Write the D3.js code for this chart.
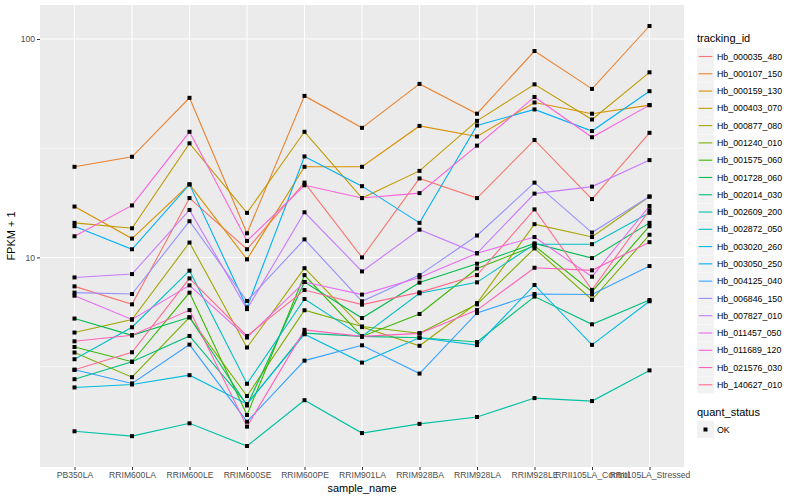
<!DOCTYPE html>
<html>
<head>
<meta charset="utf-8">
<title>FPKM by sample</title>
<script src="https://d3js.org/d3.v7.min.js"></script>
<style>
  body { margin: 0; background: #fff; }
  text { font-family: "Liberation Sans", Arial, Helvetica, sans-serif; }
</style>
</head>
<body>
<div id="chart"></div>
<script>
// sample names on the x axis
var samples = ['PB350LA', 'RRIM600LA', 'RRIM600LE', 'RRIM600SE', 'RRIM600PE', 'RRIM901LA',
  'RRIM928BA', 'RRIM928LA', 'RRIM928LE', 'RRII105LA_Control', 'RRII105LA_Stressed'];

// FPKM + 1 per gene, one value per sample
var hb_000035_480 = [7.37, 6.1, 18.7, 10.9, 22.0, 10.0, 23.0, 18.7, 34.5, 18.5, 37.2];
var hb_000107_150 = [26.0, 28.9, 53.8, 12.9, 54.9, 39.2, 62.3, 45.5, 88.1, 59.1, 114.7];
var hb_000159_130 = [17.1, 12.2, 21.6, 9.8, 26.0, 26.0, 40.0, 35.8, 51.2, 45.5, 49.8];
var hb_000403_070 = [14.4, 13.6, 33.3, 16.0, 37.6, 18.7, 24.9, 42.2, 62.0, 42.8, 70.4];
var hb_000877_080 = [4.53, 5.2, 11.7, 3.87, 8.93, 4.8, 3.94, 6.18, 14.2, 12.4, 19.0];
var hb_001240_010 = [3.67, 2.83, 5.32, 2.32, 5.73, 4.83, 4.5, 6.1, 11.0, 6.4, 12.7];
var hb_001575_060 = [3.89, 3.33, 6.9, 1.9, 8.3, 4.35, 5.51, 8.9, 11.3, 6.97, 13.9];
var hb_001728_060 = [5.25, 4.4, 5.32, 2.1, 7.72, 5.28, 7.67, 9.36, 11.6, 9.93, 14.4];
var hb_002014_030 = [2.77, 3.33, 4.37, 2.13, 4.5, 4.35, 4.29, 4.1, 6.62, 4.94, 6.38];
var hb_002609_200 = [1.60, 1.52, 1.74, 1.37, 2.22, 1.57, 1.73, 1.86, 2.27, 2.20, 3.04];
var hb_002872_050 = [3.42, 4.79, 8.7, 2.64, 6.45, 4.35, 6.85, 7.69, 11.5, 11.5, 16.0];
var hb_003020_260 = [2.54, 2.62, 2.89, 2.13, 4.45, 3.3, 4.29, 3.97, 7.48, 3.98, 6.3];
var hb_003050_250 = [13.9, 10.9, 21.6, 5.9, 29.0, 21.2, 14.4, 40.2, 47.6, 37.9, 57.7];
var hb_004125_040 = [3.06, 2.65, 3.99, 1.77, 3.37, 3.96, 2.94, 5.57, 6.8, 6.77, 9.13];
var hb_006846_150 = [6.9, 6.8, 14.65, 6.32, 12.1, 6.3, 8.3, 12.6, 22.0, 13.0, 19.0];
var hb_007827_010 = [8.1, 8.39, 16.5, 5.8, 16.1, 8.63, 13.4, 10.45, 19.6, 21.1, 27.9];
var hb_011457_050 = [6.68, 5.2, 7.45, 4.3, 7.72, 6.76, 8.1, 10.45, 12.4, 8.16, 17.2];
var hb_011689_120 = [12.5, 17.3, 37.6, 11.9, 21.4, 18.7, 19.7, 32.5, 54.3, 35.5, 49.8];
var hb_021576_030 = [4.13, 4.4, 5.74, 1.68, 4.66, 4.35, 4.49, 5.74, 8.97, 8.73, 11.75];
var hb_140627_010 = [3.06, 3.68, 8.02, 4.37, 7.09, 6.08, 6.92, 8.3, 16.6, 7.1, 16.45];

var trackingIds = ['Hb_000035_480', 'Hb_000107_150', 'Hb_000159_130', 'Hb_000403_070', 'Hb_000877_080',
  'Hb_001240_010', 'Hb_001575_060', 'Hb_001728_060', 'Hb_002014_030', 'Hb_002609_200',
  'Hb_002872_050', 'Hb_003020_260', 'Hb_003050_250', 'Hb_004125_040', 'Hb_006846_150',
  'Hb_007827_010', 'Hb_011457_050', 'Hb_011689_120', 'Hb_021576_030', 'Hb_140627_010'];
var seriesValues = [hb_000035_480, hb_000107_150, hb_000159_130, hb_000403_070, hb_000877_080,
  hb_001240_010, hb_001575_060, hb_001728_060, hb_002014_030, hb_002609_200,
  hb_002872_050, hb_003020_260, hb_003050_250, hb_004125_040, hb_006846_150,
  hb_007827_010, hb_011457_050, hb_011689_120, hb_021576_030, hb_140627_010];
var quantStatus = ['OK'];

// ggplot default hue palette, 20 levels
var palette = ['#F8766D', '#EA8331', '#D89000', '#C09B00', '#A3A500', '#7CAE00', '#39B600', '#00BB4E',
  '#00BF7D', '#00C1A3', '#00BFC4', '#00BAE0', '#00B0F6', '#35A2FF', '#9590FF', '#C77CFF',
  '#E76BF3', '#FA62DB', '#FF62BC', '#FF6C91'];

var series = trackingIds.map(function(id, i) {
  return { id: id, values: seriesValues[i].map(function(v, j) { return { sample: samples[j], value: v }; }) };
});

var W = 800, H = 500;
var panel = { left: 40, right: 684, top: 5, bottom: 467 };

var svg = d3.select('#chart').append('svg')
  .attr('width', W)
  .attr('height', H);

var x = d3.scalePoint()
  .domain(samples)
  .range([panel.left, panel.right])
  .padding(0.6);

// log scale with ggplot's 5% expansion in log space
var allVals = d3.merge(seriesValues);
var lo = Math.log10(d3.min(allVals)), hi = Math.log10(d3.max(allVals));
var pad = (hi - lo) * 0.05;
var y = d3.scaleLog()
  .domain([Math.pow(10, lo - pad), Math.pow(10, hi + pad)])
  .range([panel.bottom, panel.top]);

var color = d3.scaleOrdinal().domain(trackingIds).range(palette);

// panel background + grid
svg.append('rect')
  .attr('x', panel.left).attr('y', panel.top)
  .attr('width', panel.right - panel.left)
  .attr('height', panel.bottom - panel.top)
  .attr('fill', '#EBEBEB');

var grid = svg.append('g');
var minorTicks = [Math.pow(10, 0.5), Math.pow(10, 1.5)];
var majorTicks = [10, 100];

grid.selectAll('.minor').data(minorTicks).enter().append('line')
  .attr('x1', panel.left).attr('x2', panel.right)
  .attr('y1', function(d) { return y(d); }).attr('y2', function(d) { return y(d); })
  .attr('stroke', '#fff').attr('stroke-width', 0.55);

grid.selectAll('.major').data(majorTicks).enter().append('line')
  .attr('x1', panel.left).attr('x2', panel.right)
  .attr('y1', function(d) { return y(d); }).attr('y2', function(d) { return y(d); })
  .attr('stroke', '#fff').attr('stroke-width', 1.1);

grid.selectAll('.vert').data(samples).enter().append('line')
  .attr('x1', function(d) { return x(d); }).attr('x2', function(d) { return x(d); })
  .attr('y1', panel.top).attr('y2', panel.bottom)
  .attr('stroke', '#fff').attr('stroke-width', 1.1);

// lines
var line = d3.line()
  .x(function(d) { return x(d.sample); })
  .y(function(d) { return y(d.value); });

svg.append('g').selectAll('path')
  .data(series)
  .enter().append('path')
  .attr('d', function(d) { return line(d.values); })
  .attr('fill', 'none')
  .attr('stroke', function(d) { return color(d.id); })
  .attr('stroke-width', 1.1);

// points (square, quant_status = OK)
var pts = svg.append('g');
series.forEach(function(s) {
  pts.selectAll(null)
    .data(s.values)
    .enter().append('rect')
    .attr('x', function(d) { return x(d.sample) - 2; })
    .attr('y', function(d) { return y(d.value) - 2; })
    .attr('width', 4).attr('height', 4)
    .attr('fill', '#000');
});

// axes
var xAxis = svg.append('g')
  .attr('transform', 'translate(0,' + panel.bottom + ')')
  .call(d3.axisBottom(x).tickSize(3).tickPadding(2));
var yAxis = svg.append('g')
  .attr('transform', 'translate(' + panel.left + ',0)')
  .call(d3.axisLeft(y).tickValues(majorTicks).tickFormat(d3.format('d')).tickSize(3).tickPadding(2));

[xAxis, yAxis].forEach(function(a) {
  a.select('.domain').remove();
  a.selectAll('.tick line').attr('stroke', '#333').attr('stroke-width', 1);
  a.selectAll('.tick text').attr('fill', '#4D4D4D').style('font-size', '8.6px');
});

// axis titles
svg.append('text')
  .attr('x', (panel.left + panel.right) / 2)
  .attr('y', 492)
  .attr('text-anchor', 'middle')
  .style('font-size', '11px')
  .text('sample_name');

svg.append('text')
  .attr('transform', 'translate(15,' + ((panel.top + panel.bottom) / 2) + ') rotate(-90)')
  .attr('text-anchor', 'middle')
  .style('font-size', '11px')
  .text('FPKM + 1');

// legend: tracking_id
var lg = svg.append('g').attr('transform', 'translate(697,0)');
lg.append('text')
  .attr('x', 0).attr('y', 42)
  .style('font-size', '11px')
  .text('tracking_id');

var item = lg.selectAll('.item')
  .data(trackingIds)
  .enter().append('g')
  .attr('transform', function(d, i) { return 'translate(0,' + (48 + i * 17.28) + ')'; });

item.append('rect')
  .attr('width', 17).attr('height', 17)
  .attr('fill', '#F2F2F2');
item.append('line')
  .attr('x1', 1.7).attr('x2', 15.3)
  .attr('y1', 8.5).attr('y2', 8.5)
  .attr('stroke', function(d) { return color(d); })
  .attr('stroke-width', 1.1);
item.append('text')
  .attr('x', 20).attr('y', 11.6)
  .style('font-size', '8.8px')
  .text(function(d) { return d; });

// legend: quant_status
lg.append('text')
  .attr('x', 0).attr('y', 416)
  .style('font-size', '11px')
  .text('quant_status');

var qs = lg.selectAll('.qs')
  .data(quantStatus)
  .enter().append('g')
  .attr('transform', function(d, i) { return 'translate(0,' + (421 + i * 17.28) + ')'; });
qs.append('rect')
  .attr('width', 17).attr('height', 17)
  .attr('fill', '#F2F2F2');
qs.append('rect')
  .attr('x', 6.5).attr('y', 6.5)
  .attr('width', 4).attr('height', 4)
  .attr('fill', '#000');
qs.append('text')
  .attr('x', 20).attr('y', 11.6)
  .style('font-size', '8.8px')
  .text(function(d) { return d; });
</script>
</body>
</html>
